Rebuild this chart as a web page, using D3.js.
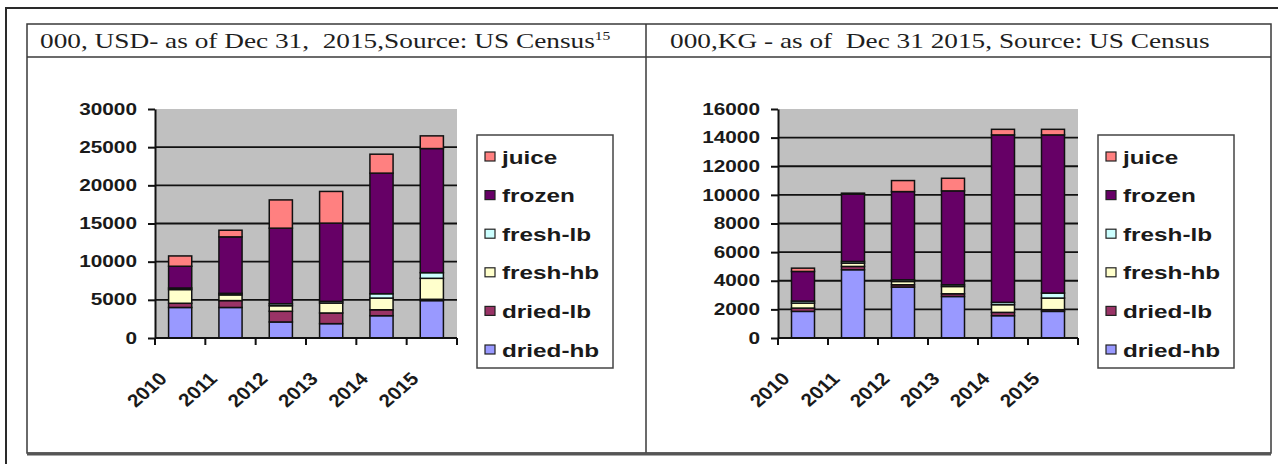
<!DOCTYPE html>
<html>
<head>
<meta charset="utf-8">
<script src="https://cdn.jsdelivr.net/npm/d3@7"></script>
<style>
  html, body { margin: 0; padding: 0; background: #fff; }
  svg { display: block; }
  .title { white-space: pre; }
</style>
</head>
<body>
<svg id="chart" width="1278" height="464"></svg>
<script>
// Categories and series (stacked bottom to top)
const years = ["2010", "2011", "2012", "2013", "2014", "2015"];
const seriesNames = ["dried-hb", "dried-lb", "fresh-hb", "fresh-lb", "frozen", "juice"];
const seriesColors = ["#9999ff", "#993366", "#ffffcc", "#ccffff", "#660066", "#ff8080"];

// Value, thousand USD
const usdDriedHb = [4000, 4000, 2100, 1880, 2920, 4900];
const usdDriedLb = [550, 900, 1400, 1400, 780, 170];
const usdFreshHb = [1800, 750, 730, 1300, 1530, 2750];
const usdFreshLb = [200, 200, 260, 220, 570, 740];
const usdFrozen  = [2850, 7400, 9900, 10250, 15800, 16260];
const usdJuice   = [1350, 870, 3700, 4150, 2480, 1660];

// Volume, thousand KG
const kgDriedHb = [1860, 4770, 3560, 2900, 1560, 1860];
const kgDriedLb = [230, 230, 160, 190, 230, 120];
const kgFreshHb = [350, 230, 230, 510, 540, 810];
const kgFreshLb = [140, 120, 120, 120, 160, 350];
const kgFrozen  = [2070, 4700, 6160, 6560, 11700, 11050];
const kgJuice   = [230, 70, 770, 880, 390, 390];

const usdTicks = [0, 5000, 10000, 15000, 20000, 25000, 30000];
const kgTicks = [0, 2000, 4000, 6000, 8000, 10000, 12000, 14000, 16000];

const usdTitle = "000, USD- as of Dec 31,  2015,Source: US Census";
const usdNote = "15";
const kgTitle = "000,KG - as of  Dec 31 2015, Source: US Census";

const svg = d3.select("#chart");
const SX = 1.35; // horizontal widening of lettering

function widen(sel, sx) {
  sel.each(function () {
    const t = d3.select(this);
    const x = +t.attr("x") || 0;
    const y = +t.attr("y") || 0;
    t.attr("x", 0).attr("y", 0)
     .attr("transform", `translate(${x},${y}) scale(${sx},1)`);
  });
}

// Outer frame and table grid
svg.append("path")
  .attr("d", "M6,464 V8 H1278")
  .attr("fill", "none").attr("stroke", "#2a2a2a").attr("stroke-width", 2);
const table = { x0: 27, y0: 24, x1: 1271, y1: 453, head: 57, mid: 646 };
svg.append("rect")
  .attr("x", table.x0).attr("y", table.y0)
  .attr("width", table.x1 - table.x0).attr("height", table.y1 - table.y0)
  .attr("fill", "none").attr("stroke", "#3a3a3a").attr("stroke-width", 1.5);
svg.append("line")
  .attr("x1", table.x0).attr("x2", table.x1).attr("y1", table.head).attr("y2", table.head)
  .attr("stroke", "#3a3a3a").attr("stroke-width", 1.5);
svg.append("line")
  .attr("x1", table.mid).attr("x2", table.mid).attr("y1", table.y0).attr("y2", table.y1)
  .attr("stroke", "#3a3a3a").attr("stroke-width", 1.5);
svg.append("line")
  .attr("x1", table.x0).attr("x2", table.x1).attr("y1", table.y1 + 1).attr("y2", table.y1 + 1)
  .attr("stroke", "#555").attr("stroke-width", 3);

function header(x, text, note) {
  const t = svg.append("text")
    .attr("class", "title")
    .attr("x", x).attr("y", 48)
    .attr("font-family", "Liberation Serif, Times New Roman, serif")
    .attr("font-size", 21).attr("fill", "#1e1e1e")
    .text(text);
  if (note) {
    t.append("tspan").attr("font-size", 12).attr("dy", -8).text(note);
  }
  widen(t, 1.3);
}
header(40, usdTitle, usdNote);
header(670, kgTitle, null);

function panel(opts) {
  const { x0, x1, yMax, ticks, data, legendX } = opts;
  const yTop = 109, yBot = 338;
  const x = d3.scaleBand().domain(years).range([x0, x1]).paddingInner(0.54).paddingOuter(0.27);
  const y = d3.scaleLinear().domain([0, yMax]).range([yBot, yTop]);
  const g = svg.append("g");

  // plot area
  g.append("rect").attr("x", x0).attr("y", yTop)
    .attr("width", x1 - x0).attr("height", yBot - yTop).attr("fill", "#c0c0c0");

  // gridlines
  g.append("g").selectAll("line")
    .data(ticks.filter(v => v > 0 && v < yMax))
    .join("line")
    .attr("x1", x0).attr("x2", x1)
    .attr("y1", d => y(d)).attr("y2", d => y(d))
    .attr("stroke", "#111").attr("stroke-width", 1.8);

  // stacked bars
  const rows = years.map((yr, i) => {
    const r = { year: yr };
    seriesNames.forEach((s, k) => { r[s] = data[k][i]; });
    return r;
  });
  const stacked = d3.stack().keys(seriesNames)(rows);
  g.append("g").selectAll("g")
    .data(stacked)
    .join("g")
    .attr("fill", (d, k) => seriesColors[k])
    .selectAll("rect")
    .data(d => d)
    .join("rect")
    .attr("x", d => x(d.data.year))
    .attr("width", x.bandwidth())
    .attr("y", d => y(d[1]))
    .attr("height", d => y(d[0]) - y(d[1]))
    .attr("stroke", "#111").attr("stroke-width", 1.5);

  // y axis
  const ya = g.append("g").attr("transform", `translate(${x0},0)`)
    .call(d3.axisLeft(y).tickValues(ticks).tickFormat(d3.format("d"))
      .tickSize(7).tickPadding(11).tickSizeOuter(0));
  ya.select(".domain").attr("stroke", "#111").attr("stroke-width", 2);
  ya.selectAll(".tick line").attr("stroke", "#111").attr("stroke-width", 2);
  ya.selectAll(".tick text")
    .attr("font-family", "Liberation Sans, Arial, sans-serif")
    .attr("font-weight", "bold").attr("font-size", 16).attr("fill", "#1a1a1a")
    .call(widen, 1.3);

  // x axis with ticks at category boundaries
  g.append("line").attr("x1", x0).attr("x2", x1).attr("y1", yBot).attr("y2", yBot)
    .attr("stroke", "#111").attr("stroke-width", 2);
  const step = x.step();
  g.append("g").selectAll("line")
    .data(d3.range(years.length + 1))
    .join("line")
    .attr("x1", i => x0 + i * step).attr("x2", i => x0 + i * step)
    .attr("y1", yBot).attr("y2", yBot + 7)
    .attr("stroke", "#111").attr("stroke-width", 2);

  g.append("g").selectAll("text")
    .data(years)
    .join("text")
    .attr("transform", d => `translate(${x(d) + x.bandwidth() / 2 - 12},${yBot + 42}) scale(1.15,1) rotate(-45)`)
    .attr("text-anchor", "end")
    .attr("font-family", "Liberation Sans, Arial, sans-serif")
    .attr("font-weight", "bold").attr("font-size", 18).attr("fill", "#1a1a1a")
    .text(d => d);

  // legend
  const lg = g.append("g");
  lg.append("rect").attr("x", legendX).attr("y", 135).attr("width", 136).attr("height", 233)
    .attr("fill", "#fff").attr("stroke", "#444").attr("stroke-width", 1.5);
  const order = seriesNames.map((s, k) => k).reverse();
  const item = lg.selectAll("g.item")
    .data(order)
    .join("g").attr("class", "item")
    .attr("transform", (k, i) => `translate(${legendX},${157 + i * 38.6})`);
  item.append("rect").attr("x", 8).attr("y", -5).attr("width", 10).attr("height", 9)
    .attr("fill", k => seriesColors[k]).attr("stroke", "#222").attr("stroke-width", 1.2);
  item.append("text").attr("x", 25).attr("y", 6.5)
    .attr("font-family", "Liberation Sans, Arial, sans-serif")
    .attr("font-weight", "bold").attr("font-size", 18).attr("fill", "#1a1a1a")
    .text(k => seriesNames[k])
    .call(widen, SX);
}

panel({
  x0: 155, x1: 457, yMax: 30000, ticks: usdTicks,
  data: [usdDriedHb, usdDriedLb, usdFreshHb, usdFreshLb, usdFrozen, usdJuice],
  legendX: 477
});
panel({
  x0: 778, x1: 1078, yMax: 16000, ticks: kgTicks,
  data: [kgDriedHb, kgDriedLb, kgFreshHb, kgFreshLb, kgFrozen, kgJuice],
  legendX: 1098
});
</script>
</body>
</html>
